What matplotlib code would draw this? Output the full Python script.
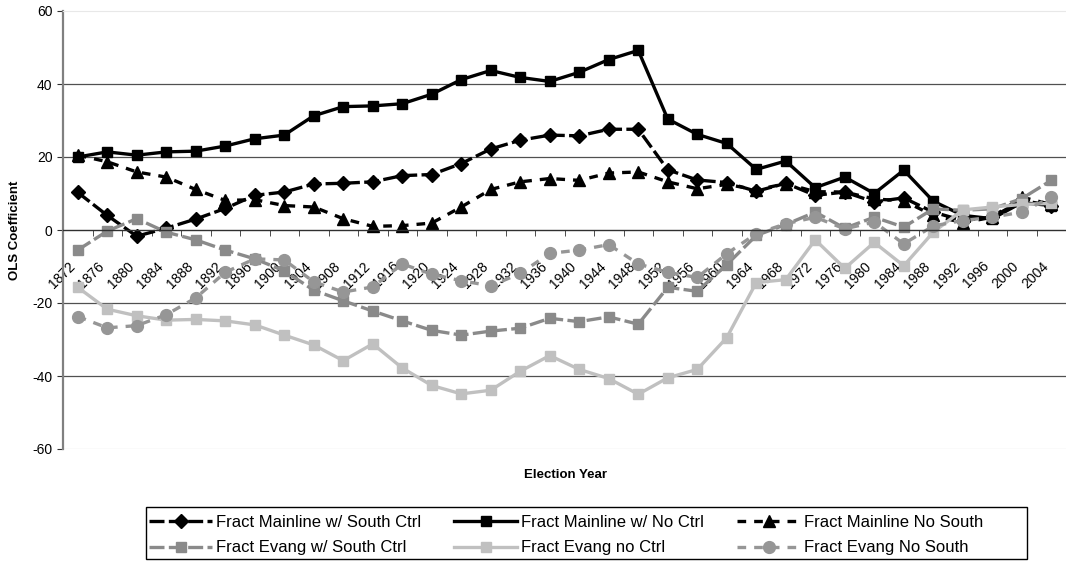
import matplotlib
matplotlib.use("Agg")
import matplotlib.pyplot as plt
from matplotlib.patches import Rectangle
from matplotlib.transforms import ScaledTranslation

plt.rcParams['font.family'] = ['Liberation Sans', 'DejaVu Sans']
plt.rcParams['axes.unicode_minus'] = False

# election years (categories)
years = [1872, 1876, 1880, 1884, 1888, 1892, 1896, 1900, 1904, 1908, 1912,
         1916, 1920, 1924, 1928, 1932, 1936, 1940, 1944, 1948, 1952, 1956,
         1960, 1964, 1968, 1972, 1976, 1980, 1984, 1988, 1992, 1996, 2000, 2004]

# OLS coefficients
mainline_south_ctrl = [10.3, 4.0, -1.7, 0.5, 3.0, 5.9, 9.5, 10.4, 12.6, 12.8, 13.2,
                       14.9, 15.2, 18.2, 22.2, 24.6, 26.0, 25.8, 27.6, 27.6, 16.5, 13.7,
                       13.0, 10.6, 12.8, 9.5, 10.4, 7.7, 8.8, 4.9, 2.6, 3.5, 8.1, 6.7]
mainline_no_ctrl = [20.0, 21.4, 20.5, 21.4, 21.6, 23.0, 25.0, 26.0, 31.3, 33.8, 34.0,
                    34.6, 37.2, 41.2, 43.7, 41.8, 40.7, 43.2, 46.7, 49.2, 30.4, 26.2,
                    23.7, 16.6, 18.9, 11.6, 14.5, 10.0, 16.4, 7.9, 4.0, 3.1, 7.5, 6.7]
mainline_no_south = [20.5, 18.7, 15.9, 14.5, 11.1, 8.1, 8.3, 6.7, 6.3, 3.1, 1.0,
                     1.2, 1.9, 6.3, 11.1, 13.2, 14.1, 13.6, 15.6, 15.9, 13.2, 11.3,
                     12.5, 11.0, 12.7, 10.5, 10.4, 8.5, 8.0, 4.0, 2.0, 3.5, 9.0, 7.0]
evang_south_ctrl = [-5.5, -0.3, 3.1, -0.6, -2.7, -5.5, -7.9, -11.2, -16.5, -19.4, -22.2,
                    -24.9, -27.5, -28.8, -27.7, -26.9, -24.2, -25.1, -23.8, -25.8, -15.7, -16.8,
                    -9.5, -1.5, 1.5, 4.9, 0.5, 3.5, 0.8, 5.8, 5.4, 5.8, 8.6, 13.6]
evang_no_ctrl = [-15.7, -21.7, -23.5, -24.7, -24.5, -24.9, -26.0, -28.8, -31.5, -35.8, -31.2,
                 -37.8, -42.6, -44.9, -43.9, -38.7, -34.4, -38.2, -40.7, -45.0, -40.5, -38.2,
                 -29.5, -14.4, -13.6, -2.7, -10.5, -3.4, -9.8, -0.6, 5.5, 6.3, 7.0, 7.3]
evang_no_south = [-23.7, -26.8, -26.2, -23.2, -18.6, -11.6, -7.9, -8.2, -14.2, -17.0, -15.6,
                  -9.3, -12.1, -13.9, -15.3, -11.9, -6.4, -5.5, -4.0, -9.3, -11.6, -13.0,
                  -6.5, -1.0, 1.7, 3.5, 0.3, 2.2, -3.8, 1.1, 2.6, 3.5, 4.9, 9.0]

labels = ['Fract Mainline w/ South Ctrl', 'Fract Mainline w/ No Ctrl', 'Fract Mainline No South',
          'Fract Evang w/ South Ctrl', 'Fract Evang no Ctrl', 'Fract Evang No South']

W, H = 1066, 562
fig = plt.figure(figsize=(W / 100, H / 100), dpi=100)
ax = fig.add_axes([63 / W, 1 - 449 / H, 1 - 63 / W, (449 - 11) / H])

x = list(range(len(years)))
lw = 2.4
long_dash = (0, (4.5, 1.3))
short_dash = (0, (2.6, 2.4))

ax.plot(x, mainline_south_ctrl, color='black', lw=lw, ls=long_dash, marker='D', ms=7, label=labels[0])
ax.plot(x, mainline_no_ctrl, color='black', lw=lw, ls='-', marker='s', ms=7, label=labels[1])
ax.plot(x, mainline_no_south, color='black', lw=lw, ls=short_dash, marker='^', ms=8.5, label=labels[2])
ax.plot(x, evang_south_ctrl, color='#8a8a8a', lw=lw, ls=long_dash, marker='s', ms=7, label=labels[3])
ax.plot(x, evang_no_ctrl, color='#c0c0c0', lw=lw, ls='-', marker='s', ms=6.5, label=labels[4])
ax.plot(x, evang_no_south, color='#969696', lw=lw, ls=short_dash, marker='o', ms=8.5, label=labels[5])

ax.set_xlim(-0.5, len(years) - 0.5)
ax.set_ylim(-60, 60)
ax.set_yticks([-60, -40, -20, 0, 20, 40, 60])
for gy in [-40, -20, 20, 40]:
    ax.axhline(gy, color='#505050', lw=0.9, zorder=0)
ax.axhline(-60, color='#e8e8e8', lw=1, zorder=0)

ax.spines['right'].set_visible(False)
ax.spines['top'].set_color('#e8e8e8')
ax.spines['left'].set_color('#808080')
ax.spines['left'].set_linewidth(1.6)
ax.spines['bottom'].set_position(('data', 0))
ax.spines['bottom'].set_color('#303030')
ax.spines['bottom'].set_linewidth(1.0)

# category labels drawn as text, slanted, a bit below the zero axis (behind the lines)
ax.set_xticks(x)
ax.set_xticklabels([])
ax.tick_params(axis='x', which='major', length=0)
shift = ax.transData + ScaledTranslation(-0.10, -0.29, fig.dpi_scale_trans)
for i, yr in zip(x, years):
    ax.text(i, 0, str(yr), transform=shift, rotation=45, ha='right', va='top',
            rotation_mode='anchor', fontsize=10, clip_on=False, zorder=1)
ax.set_xticks([i + 0.5 for i in range(-1, len(years))], minor=True)
ax.tick_params(axis='x', which='minor', length=4, direction='out', color='#303030')
ax.tick_params(axis='y', length=4, direction='out', color='#303030', labelsize=10)

fig.text(15 / W, 1 - 230 / H, 'OLS Coefficient', rotation=90, ha='center', va='center',
         fontsize=9.5, fontweight='bold')
fig.text(566 / W, 1 - 475 / H, 'Election Year', ha='center', va='center',
         fontsize=9.5, fontweight='bold')

# legend filled row by row, frame drawn separately
handles, labs = ax.get_legend_handles_labels()
order = [0, 3, 1, 4, 2, 5]
leg = fig.legend([handles[i] for i in order], [labs[i] for i in order],
                 loc='upper left', bbox_to_anchor=(149 / W, 1 - 515 / H), ncol=3,
                 fontsize=12, handlelength=3.8, columnspacing=2.0, handletextpad=0.2,
                 labelspacing=0.62, borderpad=0, borderaxespad=0, frameon=False)
fig.patches.append(Rectangle((146 / W, 1 - 559 / H), (1027 - 146) / W, (559 - 507) / H,
                             transform=fig.transFigure, fill=False, edgecolor='black', lw=1.0))

fig.savefig('out.png', dpi=100)
